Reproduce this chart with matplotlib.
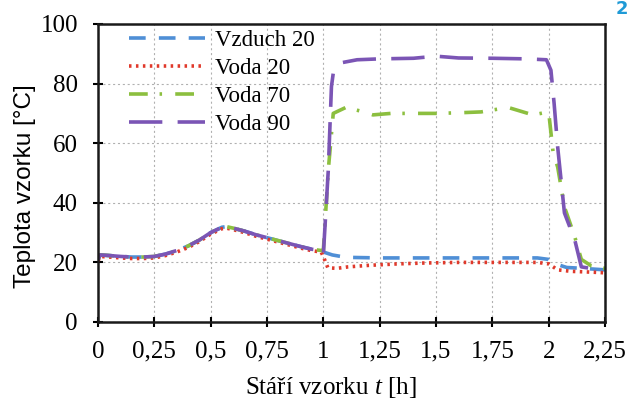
import matplotlib
matplotlib.use("Agg")
import matplotlib.pyplot as plt
from matplotlib.ticker import FixedLocator, FuncFormatter

plt.rcParams['font.family'] = ['Liberation Serif', 'DejaVu Serif']
plt.rcParams['mathtext.fontset'] = 'custom'
plt.rcParams['mathtext.rm'] = 'Liberation Serif'
plt.rcParams['mathtext.it'] = 'Liberation Serif:italic'
plt.rcParams['lines.scale_dashes'] = False

# --- data ---
t_early = [0, 0.01, 0.05, 0.1, 0.15, 0.2, 0.25, 0.3, 0.35, 0.4, 0.45, 0.5,
           0.55, 0.57, 0.6, 0.65, 0.7, 0.75, 0.8, 0.85, 0.9, 0.95, 0.99]
T_early = [21.0, 22.5, 22.3, 22.0, 21.8, 21.8, 22.0, 22.8, 24.0, 25.5, 27.5, 30.0,
           31.8, 32.0, 31.5, 30.5, 29.3, 28.3, 27.3, 26.3, 25.3, 24.4, 24.0]

t_vzduch20 = [1.0, 1.04, 1.1, 1.25, 1.5, 1.75, 1.95, 2.0, 2.03, 2.08, 2.15, 2.25]
T_vzduch20 = [23.5, 22.5, 21.7, 21.5, 21.5, 21.5, 21.5, 21.0, 19.5, 18.3, 18.0, 17.5]

t_voda20 = [1.0, 1.02, 1.06, 1.11, 1.2, 1.33, 1.45, 1.6, 1.8, 1.95, 2.0, 2.04, 2.1, 2.2, 2.25]
T_voda20 = [22.0, 18.2, 18.0, 18.5, 19.0, 19.5, 19.8, 20.0, 20.0, 20.0, 19.5, 17.5, 17.0, 16.7, 16.5]

t_voda70 = [1.0, 1.022, 1.044, 1.1, 1.18, 1.22, 1.3, 1.4, 1.5, 1.6, 1.7, 1.82, 1.93, 2.0,
            2.02, 2.04, 2.07, 2.115, 2.145, 2.19, 2.25]
T_voda70 = [24.0, 51.0, 70.0, 72.0, 70.5, 69.5, 70.0, 70.0, 70.0, 70.2, 70.5, 72.0, 69.5, 70.5,
            56.7, 52.0, 38.6, 28.8, 21.0, 18.8, 18.0]

t_voda90 = [1.0, 1.022, 1.036, 1.044, 1.08, 1.15, 1.25, 1.4, 1.5, 1.6, 1.75, 1.9, 1.99,
            2.01, 2.024, 2.04, 2.07, 2.116, 2.145, 2.2, 2.23]
T_voda90 = [22.5, 51.0, 79.0, 83.5, 87.0, 88.0, 88.3, 88.5, 89.2, 88.6, 88.5, 88.3, 88.0,
            84.5, 73.5, 58.7, 36.6, 27.5, 18.5, 17.8, 17.5]

labels = ['Vzduch 20', 'Voda 20', 'Voda 70', 'Voda 90']
x_ticks = [0, 0.25, 0.5, 0.75, 1, 1.25, 1.5, 1.75, 2, 2.25]
y_ticks = [0, 20, 40, 60, 80, 100]

fig = plt.figure(figsize=(6.3, 4.03), dpi=100)
ax = fig.add_axes([98/630, 1 - 322/403, 507/630, 298/403])

series = [
    (t_early + t_vzduch20, T_early + T_vzduch20, '#4f8fd6', dict(linestyle=(0, (12, 9.5)))),
    (t_early + t_voda20, [v - 0.5 for v in T_early] + T_voda20, '#e0392b', dict(linestyle=(0, (1.8, 3.2)))),
    (t_early + t_voda70, T_early + T_voda70, '#8cbf3f', dict(linestyle=(0, (13.5, 8.5, 1.8, 9.5)))),
    (t_early + t_voda90, T_early + T_voda90, '#7b55b5', dict(linestyle=(0, (24, 11)))),
]
for (tx, ty, c, st), lab in zip(series, labels):
    ax.plot(tx, ty, color=c, lw=2.6, label=lab, **st)

ax.set_xlim(0, 2.25)
ax.set_ylim(0, 100)
ax.xaxis.set_major_locator(FixedLocator(x_ticks))
ax.yaxis.set_major_locator(FixedLocator(y_ticks))
ax.xaxis.set_major_formatter(FuncFormatter(lambda v, p: ('%g' % v).replace('.', ',')))
ax.tick_params(axis='both', direction='inout', length=7, width=1.5, labelsize=18, colors='black')
ax.tick_params(axis='y', pad=11)
ax.tick_params(axis='x', pad=10)
ax.grid(True, linestyle=(0, (1.5, 2)), color='#b0b0b0', lw=0.8)
for s in ax.spines.values():
    s.set_linewidth(1.8)
    s.set_color('#1a1a1a')

ax.set_xlabel('Stáří vzorku $t$ [h]', fontsize=18)
ax.xaxis.set_label_coords((331 - 98) / 507, -(388 - 322) / 298)
ax.xaxis.label.set_va('center')
ax.set_ylabel('Teplota vzorku [°C]', fontsize=17.5, family=['Liberation Sans', 'DejaVu Sans'])
ax.yaxis.set_label_coords(-(98 - 25) / 507, (322 - 186) / 298)
ax.yaxis.label.set_va('center')

ax.legend(loc='upper left', bbox_to_anchor=((129 - 98) / 507, (322 - 30) / 298),
          frameon=False, fontsize=16.5, handlelength=3.3, handletextpad=0.45,
          labelspacing=0.3, borderpad=0, borderaxespad=0)

fig.text(622/630, 1 - 9/403, '2', color='#1f9ad6', fontsize=13, ha='center', va='center',
         family=['DejaVu Sans'], fontweight='bold')

fig.savefig('out.png', dpi=100)
